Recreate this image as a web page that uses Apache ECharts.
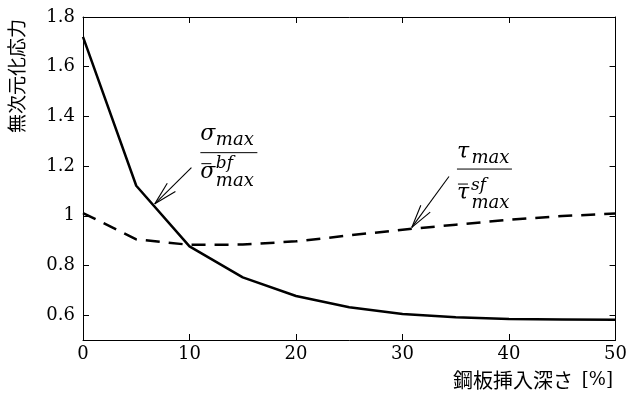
<!DOCTYPE html>
<html><head><meta charset="utf-8">
<script src="https://cdn.jsdelivr.net/npm/echarts@6/dist/echarts.min.js"></script>
<style>html,body{margin:0;padding:0;background:#fff}#c{width:630px;height:394px}</style>
</head><body><div id="c"></div>
<script>
// ---- data ----
const depth = [0, 5, 10, 15, 20, 25, 30, 35, 40, 45, 50];
const sigmaRatio = [1.72, 1.121, 0.877, 0.752, 0.677, 0.632, 0.605, 0.592, 0.585, 0.583, 0.581];
const tauRatio = [1.011, 0.905, 0.883, 0.884, 0.897, 0.921, 0.944, 0.964, 0.984, 0.999, 1.009];
const xTicks = [0, 10, 20, 30, 40, 50];
const yTicks = [0.6, 0.8, 1.0, 1.2, 1.4, 1.6, 1.8];
const yLabel = '無次元化応力';
const xLabel = '鋼板挿入深さ';
const xUnit = '[%]';
// annotation arrows: [tail, tip] in data coords
const sigmaArrow = [[10.18, 1.194], [6.74, 1.048]];
const tauArrow = [[34.36, 1.158], [30.87, 0.953]];
// fraction bar-left anchors in data coords
const sigmaFracAnchor = [11.02, 1.254];
const tauFracAnchor = [35.11, 1.188];

const SERIF = '"DejaVu Serif", serif';
const CJK = '"Noto Sans CJK JP", sans-serif';

const chart = echarts.init(document.getElementById('c'), null, {renderer: 'canvas'});
const axisCommon = {
  axisLine: {show: true, onZero: false, lineStyle: {color: '#000', width: 1}},
  splitLine: {show: false}
};
const tickCommon = {show: true, inside: true, length: 6, lineStyle: {color: '#000', width: 1}};
chart.setOption({
  animation: false,
  backgroundColor: '#fff',
  grid: {left: 83, right: 13, top: 17, bottom: 54, containLabel: false},
  xAxis: [
    Object.assign({type: 'value', min: 0, max: 50, interval: 10, position: 'bottom',
      axisTick: Object.assign({customValues: xTicks}, tickCommon),
      axisLabel: {customValues: xTicks, fontFamily: SERIF, fontSize: 18, color: '#000', margin: 5}}, axisCommon),
    Object.assign({type: 'value', min: 0, max: 50, interval: 10, position: 'top',
      axisTick: Object.assign({customValues: xTicks}, tickCommon),
      axisLabel: {show: false}}, axisCommon)
  ],
  yAxis: [
    Object.assign({type: 'value', min: 0.5, max: 1.8, position: 'left',
      axisTick: Object.assign({customValues: yTicks}, tickCommon),
      axisLabel: {customValues: yTicks, fontFamily: SERIF, fontSize: 18, color: '#000', margin: 8,
        formatter: v => String(+(+v).toFixed(2))}}, axisCommon),
    Object.assign({type: 'value', min: 0.5, max: 1.8, position: 'right',
      axisTick: Object.assign({customValues: yTicks}, tickCommon),
      axisLabel: {show: false}}, axisCommon)
  ],
  series: [
    {type: 'line', xAxisIndex: 0, yAxisIndex: 0, symbol: 'none', clip: true,
      data: depth.map((d, i) => [d, sigmaRatio[i]]),
      lineStyle: {color: '#000', width: 2.5, type: 'solid'}},
    {type: 'line', xAxisIndex: 0, yAxisIndex: 0, symbol: 'none', clip: true,
      data: depth.map((d, i) => [d, tauRatio[i]]),
      lineStyle: {color: '#000', width: 2.5, type: [14, 9]}}
  ]
});

function px(p) { return chart.convertToPixel({gridIndex: 0}, p); }
function arrow(a) {
  const t = px(a[0]), h = px(a[1]);
  const ang = Math.atan2(t[1] - h[1], t[0] - h[0]);
  const L = 24, da = 14 * Math.PI / 180;
  const els = [{type: 'line', shape: {x1: t[0], y1: t[1], x2: h[0], y2: h[1]}, style: {stroke: '#000', lineWidth: 1.1}}];
  [-da, da].forEach(d => {
    els.push({type: 'line', shape: {x1: h[0], y1: h[1], x2: h[0] + L * Math.cos(ang + d), y2: h[1] + L * Math.sin(ang + d)},
      style: {stroke: '#000', lineWidth: 1.1}});
  });
  return els;
}
function txt(x, y, s, size, align) {
  return {type: 'text', x: x, y: y, style: {text: s, font: 'italic ' + size + 'px ' + SERIF, fill: '#000',
    align: align || 'left', verticalAlign: 'middle'}};
}
function frac(anchor, greek, sup, o) {
  const a = px(anchor);
  const X = a[0], Y = a[1];
  return [
    txt(X + o.nx, Y + o.ny, greek, 22),
    txt(X + o.sx, Y + o.sy, 'max', 18),
    {type: 'line', shape: {x1: X, y1: Y, x2: X + o.bw, y2: Y}, style: {stroke: '#000', lineWidth: 1}},
    txt(X + o.dx, Y + o.dy, greek, 22),
    {type: 'line', shape: {x1: X + o.dx + 1, y1: Y + o.my, x2: X + o.dx + 11, y2: Y + o.my}, style: {stroke: '#000', lineWidth: 1}},
    txt(X + o.px, Y + o.py, sup, 17),
    txt(X + o.sx, Y + o.qy, 'max', 18)
  ];
}
const g = [].concat(
  arrow(sigmaArrow), arrow(tauArrow),
  frac(sigmaFracAnchor, 'σ', 'bf', {nx: 0, ny: -18, sx: 15.5, sy: -12, bw: 57, dx: 0, dy: 20, my: 11, px: 15.5, py: 11, qy: 29}),
  frac(tauFracAnchor, 'τ', 'sf', {nx: 0, ny: -17, sx: 14.5, sy: -11, bw: 55, dx: 0, dy: 24, my: 15, px: 14, py: 17, qy: 34}),
  [
    {type: 'text', x: 17, y: 76, rotation: Math.PI / 2,
      style: {text: yLabel, font: '19px ' + CJK, fill: '#000', align: 'center', verticalAlign: 'middle'}},
    {type: 'text', x: 573, y: 380,
      style: {text: xLabel, font: '20px ' + CJK, fill: '#000', align: 'right', verticalAlign: 'middle'}},
    {type: 'text', x: 613, y: 380,
      style: {text: xUnit, font: '18px ' + SERIF, fill: '#000', align: 'right', verticalAlign: 'middle'}}
  ]
);
chart.setOption({graphic: {elements: g}});
</script></body></html>
